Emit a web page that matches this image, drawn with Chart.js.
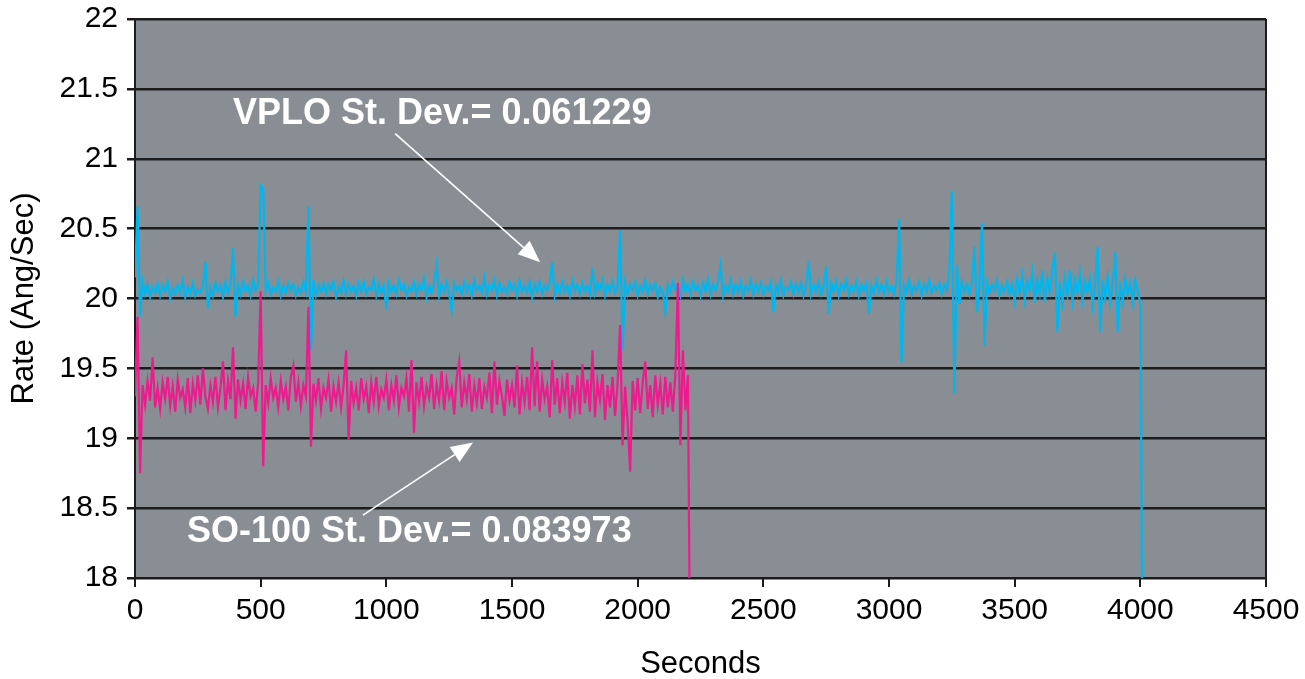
<!DOCTYPE html>
<html>
<head>
<meta charset="utf-8">
<script src="https://cdn.jsdelivr.net/npm/chart.js@4.4.1/dist/chart.umd.min.js"></script>
<style>
  body { margin: 0; background: #ffffff; }
  #wrap { width: 1305px; height: 679px; position: relative; }
</style>
</head>
<body>
<div id="wrap"><canvas id="rate-chart"></canvas></div>
<script>
// deposition rate vs time, two sources, one reading every 10 s

const xTicks = [0, 500, 1000, 1500, 2000, 2500, 3000, 3500, 4000, 4500];
const yTicks = [18, 18.5, 19, 19.5, 20, 20.5, 21, 21.5, 22];
const sampleStep = 10; // seconds between readings

// VPLO, one row = 100 s
const vploRate = [
    20.15, 20.66, 19.87, 20.12, 20.03, 20.10, 20.01, 20.08, 20.04, 20.11,
    20.02, 20.09, 20.05, 20.12, 20.00, 20.07, 20.03, 20.10, 20.04, 20.13,
    20.01, 20.08, 20.03, 20.11, 20.02, 20.06, 20.04, 20.09, 20.26, 19.93,
    20.08, 20.02, 20.11, 20.05, 20.09, 20.01, 20.12, 20.04, 20.10, 20.36,
    19.87, 20.10, 20.03, 20.12, 20.05, 20.09, 20.02, 20.13, 20.06, 20.10,
    20.81, 20.79, 20.05, 20.11, 20.03, 20.08, 20.05, 20.12, 20.02, 20.09,
    20.04, 20.11, 20.06, 20.10, 20.02, 20.08, 20.04, 20.12, 20.05, 20.66,
    19.63, 20.13, 20.02, 20.09, 20.05, 20.11, 20.03, 20.10, 20.06, 20.12,
    20.01, 20.08, 20.04, 20.13, 20.03, 20.10, 20.05, 20.09, 20.02, 20.11,
    20.05, 20.12, 20.03, 20.08, 20.06, 20.14, 20.02, 20.10, 20.04, 20.09,
    19.92, 20.11, 20.05, 20.09, 20.03, 20.13, 20.06, 20.10, 20.02, 20.08,
    20.05, 20.12, 20.03, 20.10, 20.06, 20.14, 20.01, 20.09, 20.04, 20.11,
    20.24, 20.02, 20.10, 20.05, 20.12, 20.03, 19.91, 20.11, 20.06, 20.09,
    20.03, 20.12, 20.05, 20.10, 20.02, 20.13, 20.06, 20.09, 20.04, 20.15,
    20.03, 20.10, 20.06, 20.13, 20.02, 20.11, 20.05, 20.08, 20.03, 20.12,
    20.06, 20.10, 20.02, 20.13, 20.05, 20.09, 20.04, 20.12, 20.01, 20.10,
    20.05, 20.12, 20.03, 20.09, 20.06, 20.11, 20.26, 20.02, 20.10, 20.04,
    20.12, 20.05, 20.09, 20.02, 20.13, 20.06, 20.10, 20.03, 20.11, 20.05,
    20.09, 20.03, 20.22, 20.04, 20.11, 20.06, 20.13, 20.02, 20.10, 20.05,
    20.12, 20.04, 20.09, 20.49, 19.63, 20.11, 20.03, 20.10, 20.06, 20.12,
    20.02, 20.09, 20.05, 20.13, 20.03, 20.10, 20.06, 20.11, 20.01, 20.08,
    20.05, 19.90, 20.10, 20.04, 20.12, 20.06, 20.09, 20.02, 20.13, 20.05,
    20.10, 20.03, 20.12, 20.06, 20.09, 20.02, 20.11, 20.05, 20.14, 20.03,
    20.10, 20.06, 20.12, 20.24, 20.02, 20.09, 20.05, 20.13, 20.03, 20.10,
    20.05, 20.12, 20.02, 20.09, 20.06, 20.13, 20.03, 20.10, 20.05, 20.11,
    20.03, 20.09, 20.06, 20.12, 19.90, 20.10, 20.04, 20.13, 20.02, 20.08,
    20.06, 20.12, 20.03, 20.10, 20.05, 20.11, 20.02, 20.09, 20.27, 20.03,
    20.10, 20.05, 20.12, 20.03, 20.09, 20.23, 19.89, 20.11, 20.05, 20.12,
    20.02, 20.10, 20.06, 20.13, 20.03, 20.09, 20.05, 20.12, 20.02, 20.10,
    20.06, 20.11, 19.89, 20.09, 20.04, 20.13, 20.05, 20.10, 20.03, 20.12,
    20.05, 20.09, 20.03, 20.12, 20.57, 19.54, 20.10, 20.05, 20.13, 20.03,
    20.09, 20.06, 20.12, 20.02, 20.10, 20.05, 20.13, 20.04, 20.09, 20.06,
    20.11, 20.03, 20.10, 20.06, 20.20, 20.77, 19.32, 20.24, 19.96, 20.12,
    20.05, 20.10, 20.03, 20.12, 20.37, 19.90, 20.09, 20.54, 19.66, 20.11,
    20.04, 20.10, 20.06, 20.13, 20.02, 20.09, 20.05, 20.12, 20.03, 20.10,
    19.98, 20.14, 20.04, 20.17, 19.99, 20.12, 20.06, 20.19, 19.97, 20.13,
    20.03, 20.20, 19.98, 20.14, 20.05, 20.21, 20.33, 19.76, 20.12, 19.97,
    20.15, 20.02, 20.20, 19.98, 20.13, 20.04, 20.18, 19.99, 20.12, 20.05,
    20.14, 19.95, 20.11, 20.37, 19.76, 20.13, 20.00, 20.16, 19.97, 20.11,
    20.33, 19.76, 20.12, 19.98, 20.14, 20.03, 20.11, 19.97, 20.13, 20.05,
    19.96, 17.00
];

// SO-100, one row = 100 s
const soRate = [
    19.30, 19.87, 18.75, 19.38, 19.24, 19.41, 19.27, 19.58, 19.22, 19.36,
    19.21, 19.40, 19.28, 19.44, 19.23, 19.37, 19.19, 19.42, 19.29, 19.35,
    19.22, 19.43, 19.18, 19.39, 19.27, 19.45, 19.24, 19.50, 19.30, 19.21,
    19.38, 19.26, 19.44, 19.22, 19.36, 19.55, 19.20, 19.41, 19.28, 19.65,
    19.14, 19.42, 19.27, 19.39, 19.21, 19.44, 19.30, 19.36, 19.19, 19.40,
    20.05, 18.80, 19.38, 19.25, 19.43, 19.29, 19.36, 19.22, 19.41, 19.28,
    19.37, 19.20, 19.44, 19.52, 19.26, 19.40, 19.23, 19.38, 19.30, 19.94,
    18.94, 19.39, 19.27, 19.43, 19.21, 19.36, 19.29, 19.42, 19.19, 19.37,
    19.26, 19.40, 19.22, 19.38, 19.63, 18.99, 19.41, 19.25, 19.36, 19.20,
    19.43, 19.28, 19.37, 19.18, 19.40, 19.26, 19.44, 19.23, 19.35, 19.29,
    19.42, 19.20, 19.38, 19.27, 19.45, 19.22, 19.36, 19.30, 19.43, 19.19,
    19.56, 19.04, 19.40, 19.26, 19.44, 19.23, 19.37, 19.29, 19.46, 19.21,
    19.38, 19.27, 19.48, 19.20, 19.41, 19.29, 19.36, 19.17, 19.44, 19.55,
    19.22, 19.40, 19.28, 19.46, 19.19, 19.38, 19.25, 19.43, 19.21, 19.37,
    19.29, 19.47, 19.18, 19.55, 19.24, 19.41, 19.30, 19.16, 19.42, 19.27,
    19.38, 19.22, 19.52, 19.17, 19.40, 19.26, 19.44, 19.20, 19.65, 19.23,
    19.55, 19.19, 19.42, 19.28, 19.37, 19.15, 19.56, 19.24, 19.43, 19.18,
    19.40, 19.26, 19.47, 19.14, 19.38, 19.23, 19.45, 19.17, 19.53, 19.25,
    19.42, 19.19, 19.63, 19.15, 19.40, 19.27, 19.46, 19.13, 19.38, 19.22,
    19.44, 19.16, 19.39, 19.81, 18.95, 19.37, 19.12, 18.76, 19.41, 19.20,
    19.43, 19.18, 19.40, 19.55, 19.21, 19.38, 19.15, 19.45, 19.24, 19.39,
    19.17, 19.44, 19.22, 19.40, 19.19, 19.46, 20.11, 18.95, 19.63, 19.20,
    19.45, 17.00
];

const seriesNames = ["SO-100", "VPLO"];
const seriesColors = ["#ec1c8e", "#00b6ef"];
const notes = [
    { text: "VPLO St. Dev.= 0.061229", at: [390, 21.32], from: [1035, 21.18], to: [1612, 20.26] },
    { text: "SO-100 St. Dev.= 0.083973", at: [207, 18.33], from: [907, 18.45], to: [1345, 18.97] }
];

const FONT = "'Liberation Sans', Arial, Helvetica, sans-serif";
const INK = "#1c1c1c";

function toPoints(ys) {
    return ys.map((y, i) => ({ x: i * sampleStep, y: y }));
}

// gray plot area + right frame line
const plotBg = {
    id: "plotBg",
    beforeDraw(chart) {
        const { ctx, chartArea: a } = chart;
        ctx.save();
        ctx.fillStyle = "#898e94";
        ctx.fillRect(a.left, a.top, a.right - a.left, a.bottom - a.top);
        ctx.strokeStyle = INK;
        ctx.lineWidth = 2;
        ctx.beginPath();
        ctx.moveTo(a.right, a.top);
        ctx.lineTo(a.right, a.bottom);
        ctx.stroke();
        ctx.restore();
    }
};

// st. dev. labels with white arrows
const notesPlugin = {
    id: "notes",
    afterDatasetsDraw(chart) {
        const { ctx, scales } = chart;
        const px = v => scales.x.getPixelForValue(v);
        const py = v => scales.y.getPixelForValue(v);
        ctx.save();
        notes.forEach(n => {
            ctx.fillStyle = "#ffffff";
            ctx.font = "bold 36px " + FONT;
            ctx.textAlign = "left";
            ctx.textBaseline = "middle";
            ctx.fillText(n.text, px(n.at[0]), py(n.at[1]));

            const x1 = px(n.from[0]), y1 = py(n.from[1]);
            const x2 = px(n.to[0]), y2 = py(n.to[1]);
            const ang = Math.atan2(y2 - y1, x2 - x1);
            const len = 22, half = 9;
            const bx = x2 - len * Math.cos(ang), by = y2 - len * Math.sin(ang);
            ctx.strokeStyle = "#ffffff";
            ctx.lineWidth = 1.6;
            ctx.beginPath();
            ctx.moveTo(x1, y1);
            ctx.lineTo(bx, by);
            ctx.stroke();
            ctx.beginPath();
            ctx.moveTo(x2, y2);
            ctx.lineTo(bx + half * Math.sin(ang), by - half * Math.cos(ang));
            ctx.lineTo(bx - half * Math.sin(ang), by + half * Math.cos(ang));
            ctx.closePath();
            ctx.fill();
        });
        ctx.restore();
    }
};

const datasets = [
    { label: seriesNames[0], data: toPoints(soRate), borderColor: seriesColors[0] },
    { label: seriesNames[1], data: toPoints(vploRate), borderColor: seriesColors[1] }
].map(d => Object.assign(d, {
    showLine: true,
    borderWidth: 2.2,
    pointRadius: 0,
    tension: 0,
    fill: false
}));

new Chart(document.getElementById("rate-chart"), {
    type: "scatter",
    data: { datasets: datasets },
    options: {
        responsive: true,
        maintainAspectRatio: false,
        animation: false,
        layout: { padding: { top: 19, right: 39, left: 0, bottom: 0 } },
        plugins: {
            legend: { display: false },
            tooltip: { enabled: false }
        },
        scales: {
            x: {
                type: "linear",
                min: 0,
                max: 4500,
                afterBuildTicks: s => { s.ticks = xTicks.map(v => ({ value: v })); },
                afterFit: s => { s.height = 101; s.paddingLeft = 0; s.paddingRight = 0; },
                ticks: { color: "#000", padding: 6, maxRotation: 0, callback: v => String(v), font: { family: FONT, size: 30 } },
                grid: { drawOnChartArea: false, drawTicks: true, tickLength: 9, color: INK, lineWidth: 2 },
                border: { display: true, color: INK, width: 2 },
                title: { display: true, text: "Seconds", color: "#000", padding: { top: 0, bottom: -4 }, font: { family: FONT, size: 31 } }
            },
            y: {
                type: "linear",
                min: 18,
                max: 22,
                afterBuildTicks: s => { s.ticks = yTicks.map(v => ({ value: v })); },
                afterFit: s => { s.width = 135; s.paddingTop = 0; s.paddingBottom = 0; },
                ticks: { color: "#000", padding: 9, callback: v => String(v), font: { family: FONT, size: 30 } },
                grid: { drawTicks: true, tickLength: 8, color: INK, lineWidth: 2.5 },
                border: { display: true, color: INK, width: 2 },
                title: { display: true, text: "Rate (Ang/Sec)", color: "#000", padding: { top: 6, bottom: 0 }, font: { family: FONT, size: 31 } }
            }
        }
    },
    plugins: [plotBg, notesPlugin]
});
</script>
</body>
</html>
